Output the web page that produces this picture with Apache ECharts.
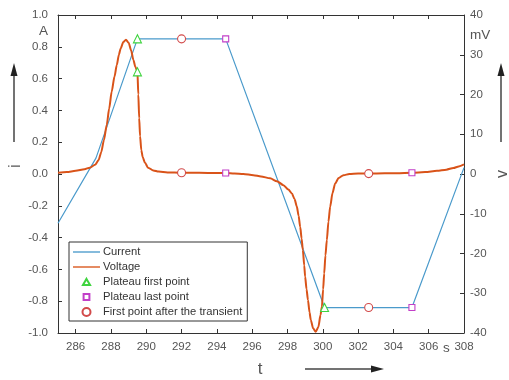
<!DOCTYPE html>
<html>
<head>
<meta charset="utf-8">
<script src="https://cdn.jsdelivr.net/npm/echarts@6/dist/echarts.min.js"></script>
<style>
  html, body { margin: 0; padding: 0; background: #fff; }
  #chart { width: 509px; height: 380px; }
</style>
</head>
<body>
<div id="chart"></div>
<script>
// Axis ticks
const timeTicks = [286, 288, 290, 292, 294, 296, 298, 300, 302, 304, 306, 308];
const currentTicks = [-1.0, -0.8, -0.6, -0.4, -0.2, 0.0, 0.2, 0.4, 0.6, 0.8, 1.0];
const voltageTicks = [-40, -30, -20, -10, 0, 10, 20, 30, 40];

// Unit labels placed in the tick-label rows
const timeUnitAt = 307;
const currentUnitAt = 0.9;
const voltageUnitAt = 35;

// Current (A), sampled points of the piecewise-linear trace
const currentTime = [285, 287.15, 289.5, 294.5, 300.1, 305.05, 308];
const currentAmp  = [-0.31, 0.10, 0.85, 0.85, -0.84, -0.84, 0.04];

// Voltage (mV)
const voltageTime = [
  285, 285.5, 286, 286.5, 286.8, 287.1, 287.3, 287.45, 287.6, 287.76,
  287.9, 288.04, 288.2, 288.33, 288.45, 288.55, 288.7, 288.85, 289.0, 289.15,
  289.27, 289.38, 289.5, 289.55, 289.6, 289.65, 289.72, 289.8, 289.93, 290.1,
  290.4, 290.7, 291.2, 292, 293, 294, 294.5, 295, 295.5, 296.07,
  296.5, 297.02, 297.4, 297.77, 298.05, 298.25, 298.4, 298.53, 298.63, 298.72,
  298.8, 298.87, 298.95, 299.0, 299.08, 299.16, 299.25, 299.32, 299.45, 299.6,
  299.75, 299.87, 299.95, 300.02, 300.08, 300.15, 300.23, 300.32, 300.42, 300.55,
  300.7, 300.9, 301.17, 301.5, 302, 302.6, 303.5, 304.2, 305.05, 305.8,
  306.47, 307, 307.4, 307.7, 308
];
const voltageMv = [
  0.3, 0.5, 0.8, 1.2, 1.6, 2.3, 3.5, 5.5, 8.5, 12.3,
  16.5, 20.7, 24.5, 27.4, 30.0, 31.6, 33.2, 33.8, 33.0, 31.0,
  28.7, 27.0, 25.7, 20.0, 14.0, 9.5, 6.0, 4.2, 2.8, 1.6,
  0.9, 0.6, 0.4, 0.3, 0.3, 0.25, 0.25, 0.15, 0.0, -0.3,
  -0.6, -1.1, -1.8, -2.8, -3.9, -4.9, -6.3, -8.2, -10.5, -13.3,
  -16.2, -19.1, -23.0, -25.8, -29.0, -31.7, -34.8, -36.7, -38.8, -39.7,
  -38.5, -35.5, -33.4, -29.0, -25.0, -20.5, -16.6, -12.0, -8.2, -4.8,
  -2.4, -1.0, -0.3, 0.0, 0.1, 0.1, 0.2, 0.2, 0.3, 0.5,
  0.8, 1.1, 1.5, 1.9, 2.4
];

// Marked points
const plateauFirstTimeA = [289.5, 300.1];
const plateauFirstAmp   = [0.85, -0.84];
const plateauFirstTimeV = [289.5];
const plateauFirstMv    = [25.7];

const plateauLastTimeA = [294.5, 305.05];
const plateauLastAmp   = [0.85, -0.84];
const plateauLastTimeV = [294.5, 305.05];
const plateauLastMv    = [0.25, 0.3];

const afterTransientTimeA = [292.0, 302.6];
const afterTransientAmp   = [0.85, -0.84];
const afterTransientTimeV = [292.0, 302.6];
const afterTransientMv    = [0.3, 0.1];

const names = ['Current', 'Voltage', 'Plateau first point', 'Plateau last point', 'First point after the transient'];

const zip = (xs, ys) => xs.map((x, i) => [x, ys[i]]);

const FONT = 'Liberation Sans, Arial, sans-serif';
const AXIS_COLOR = '#333';
const LABEL_COLOR = '#555';
const BLUE = '#4a9acb';
const ORANGE = '#d95319';
const GREEN = '#3fd43f';
const MAGENTA = '#c23fc8';
const RED = '#d24a4a';

const chart = echarts.init(document.getElementById('chart'), null, { renderer: 'canvas' });

const unitRich = { u: { fontSize: 13.5, fontFamily: FONT, color: LABEL_COLOR } };

function markerSeries(name, yIndex, data, symbol, size, color) {
  return {
    name: name,
    type: 'scatter',
    xAxisIndex: 0,
    yAxisIndex: yIndex,
    data: data,
    symbol: symbol,
    symbolSize: size,
    z: 5,
    itemStyle: { color: '#fff', borderColor: color, borderWidth: 1.1, opacity: 1 },
    emphasis: { disabled: true }
  };
}

// Legend glyphs (the leading moves only widen the glyph box so the shape draws smaller)
const lineIcon = 'path://M0,0H28V1.4H0Z';
const triangleIcon = 'path://M-1,-1M9,8M4,0L8,7L0,7Z';
const squareIcon = 'path://M-1.5,-1.5M9.5,9.5M0,0H8V8H0Z';
const circleIcon = 'circle';

const option = {
  backgroundColor: '#fff',
  animation: false,
  grid: { left: 58, right: 45, top: 15, bottom: 47 },
  xAxis: [
    {
      type: 'value', position: 'bottom', min: 285, max: 308,
      axisLine: { show: true, onZero: false, lineStyle: { color: AXIS_COLOR, width: 1 } },
      axisTick: { show: true, inside: true, length: 4, customValues: timeTicks, lineStyle: { color: AXIS_COLOR } },
      axisLabel: {
        customValues: timeTicks.concat([timeUnitAt]),
        formatter: v => (v === timeUnitAt ? '{u|s}' : String(v)),
        rich: unitRich,
        color: LABEL_COLOR, fontSize: 11.5, fontFamily: FONT, margin: 8
      },
      splitLine: { show: false }
    },
    {
      type: 'value', position: 'top', min: 285, max: 308,
      axisLine: { show: true, onZero: false, lineStyle: { color: AXIS_COLOR, width: 1 } },
      axisTick: { show: true, inside: true, length: 4, customValues: timeTicks, lineStyle: { color: AXIS_COLOR } },
      axisLabel: { show: false },
      splitLine: { show: false }
    }
  ],
  yAxis: [
    {
      type: 'value', position: 'left', min: -1, max: 1,
      axisLine: { show: true, onZero: false, lineStyle: { color: AXIS_COLOR, width: 1 } },
      axisTick: { show: true, inside: true, length: 4, customValues: currentTicks, lineStyle: { color: AXIS_COLOR } },
      axisLabel: {
        customValues: currentTicks.concat([currentUnitAt]),
        formatter: v => (Math.abs(v - currentUnitAt) < 1e-9 ? '{u|A}' : v.toFixed(1)),
        rich: unitRich,
        color: LABEL_COLOR, fontSize: 11.5, fontFamily: FONT, margin: 10
      },
      splitLine: { show: false }
    },
    {
      type: 'value', position: 'right', min: -40, max: 40,
      axisLine: { show: true, onZero: false, lineStyle: { color: AXIS_COLOR, width: 1 } },
      axisTick: { show: true, inside: true, length: 4, customValues: voltageTicks, lineStyle: { color: AXIS_COLOR } },
      axisLabel: {
        customValues: voltageTicks.concat([voltageUnitAt]),
        formatter: v => (v === voltageUnitAt ? '{u|mV}' : String(v)),
        rich: unitRich,
        color: LABEL_COLOR, fontSize: 11.5, fontFamily: FONT, margin: 6
      },
      splitLine: { show: false }
    }
  ],
  legend: {
    orient: 'vertical',
    left: 69, top: 242,
    padding: [4, 5, 3, 4],
    itemWidth: 27, itemHeight: 8, itemGap: 3,
    symbolKeepAspect: true,
    borderColor: '#333', borderWidth: 1,
    backgroundColor: '#fff',
    textStyle: { fontSize: 11.2, color: '#333', fontFamily: FONT, lineHeight: 12, padding: [0, 0, 0, -2] },
    selectedMode: false,
    data: [
      { name: names[0], icon: lineIcon, itemStyle: { color: BLUE, borderWidth: 0 } },
      { name: names[1], icon: lineIcon, itemStyle: { color: ORANGE, borderWidth: 0 } },
      { name: names[2], icon: triangleIcon },
      { name: names[3], icon: squareIcon },
      { name: names[4], icon: circleIcon }
    ]
  },
  series: [
    {
      name: names[0], type: 'line', xAxisIndex: 0, yAxisIndex: 0,
      data: zip(currentTime, currentAmp),
      showSymbol: false, symbol: 'none',
      lineStyle: { color: BLUE, width: 1.2 }, itemStyle: { color: BLUE },
      z: 2, emphasis: { disabled: true }
    },
    {
      name: names[1], type: 'line', xAxisIndex: 0, yAxisIndex: 1,
      data: zip(voltageTime, voltageMv),
      showSymbol: false, symbol: 'none',
      smooth: 0.25, smoothMonotone: 'x',
      lineStyle: { color: ORANGE, width: 2 }, itemStyle: { color: ORANGE },
      z: 3, emphasis: { disabled: true }
    },
    markerSeries(names[2], 0, zip(plateauFirstTimeA, plateauFirstAmp), 'triangle', 8, GREEN),
    markerSeries(names[2], 1, zip(plateauFirstTimeV, plateauFirstMv), 'triangle', 8, GREEN),
    markerSeries(names[3], 0, zip(plateauLastTimeA, plateauLastAmp), 'rect', 6, MAGENTA),
    markerSeries(names[3], 1, zip(plateauLastTimeV, plateauLastMv), 'rect', 6, MAGENTA),
    markerSeries(names[4], 0, zip(afterTransientTimeA, afterTransientAmp), 'circle', 8, RED),
    markerSeries(names[4], 1, zip(afterTransientTimeV, afterTransientMv), 'circle', 8, RED)
  ],
  graphic: [
    // quantity symbols with direction arrows
    { type: 'line', shape: { x1: 14, y1: 142, x2: 14, y2: 74 }, style: { stroke: '#444', lineWidth: 1.5 } },
    { type: 'polygon', shape: { points: [[14, 63], [10.5, 76], [17.5, 76]] }, style: { fill: '#222' } },
    { type: 'text', x: 15, y: 166, rotation: Math.PI / 2,
      style: { text: 'i', font: '17px ' + FONT, fill: '#555', textAlign: 'center', textVerticalAlign: 'middle' } },

    { type: 'line', shape: { x1: 501, y1: 142, x2: 501, y2: 74 }, style: { stroke: '#444', lineWidth: 1.5 } },
    { type: 'polygon', shape: { points: [[501, 63], [497.5, 76], [504.5, 76]] }, style: { fill: '#222' } },
    { type: 'text', x: 503, y: 174, rotation: Math.PI / 2,
      style: { text: 'v', font: '16px ' + FONT, fill: '#555', textAlign: 'center', textVerticalAlign: 'middle' } },

    { type: 'text', x: 260, y: 369,
      style: { text: 't', font: '17px ' + FONT, fill: '#555', textAlign: 'center', textVerticalAlign: 'middle' } },
    { type: 'line', shape: { x1: 305, y1: 369, x2: 373, y2: 369 }, style: { stroke: '#444', lineWidth: 1.5 } },
    { type: 'polygon', shape: { points: [[384, 369], [371, 365.5], [371, 372.5]] }, style: { fill: '#222' } }
  ]
};

chart.setOption(option);
</script>
</body>
</html>
